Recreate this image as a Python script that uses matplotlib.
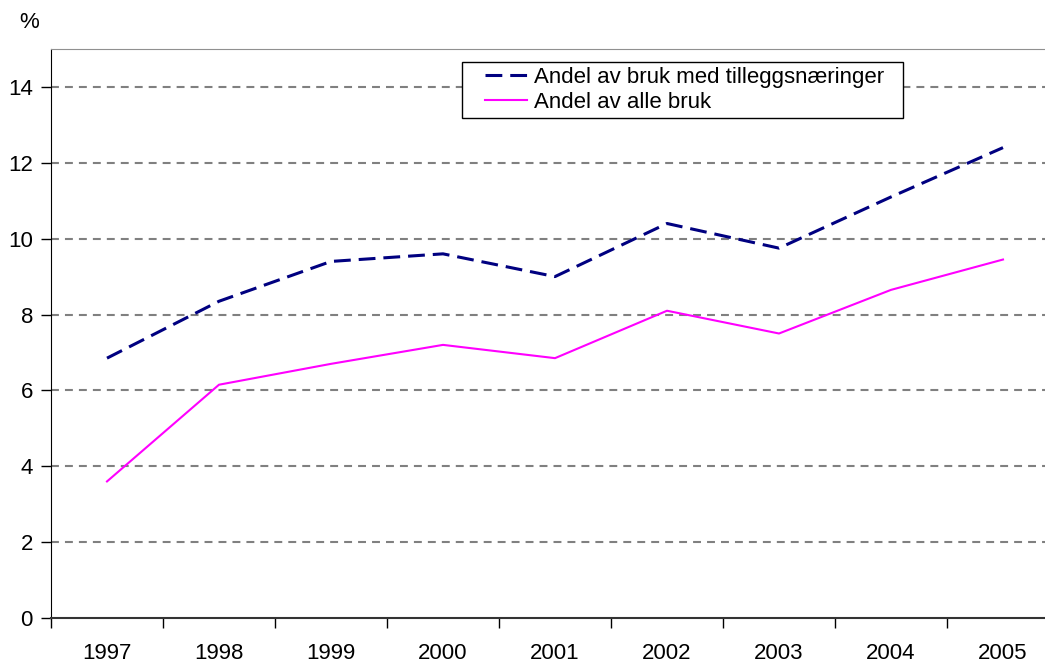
import matplotlib
matplotlib.use("Agg")
import matplotlib.pyplot as plt
import numpy as np
from matplotlib.patches import Rectangle

years = ["1997", "1998", "1999", "2000", "2001", "2002", "2003", "2004", "2005"]
andel_tillegg = [6.85, 8.35, 9.4, 9.6, 9.0, 10.4, 9.75, 11.1, 12.4]
andel_alle = [3.6, 6.15, 6.7, 7.2, 6.85, 8.1, 7.5, 8.65, 9.45]
y_ticks = [0, 2, 4, 6, 8, 10, 12, 14]

plt.rcParams["font.family"] = ["Liberation Sans", "DejaVu Sans"]

W, H = 1045, 664
fig = plt.figure(figsize=(W / 100, H / 100), dpi=100, facecolor="white")
# axes extend past the right edge, like the clipped original
ax = fig.add_axes([51 / W, 1 - 618 / H, 1008 / W, 569 / H])

x = np.arange(len(years))
ax.plot(x, andel_tillegg, color="#000080", lw=2.2, dashes=(5.5, 2.6),
        label="Andel av bruk med tilleggsnæringer")
ax.plot(x, andel_alle, color="#FF00FF", lw=1.5, label="Andel av alle bruk")

ax.set_xlim(-0.5, len(years) - 0.5)
ax.set_ylim(0, 15)
ax.set_yticks(y_ticks)
ax.set_yticklabels([str(v) for v in y_ticks], fontsize=16)
for v in y_ticks[1:]:
    ax.axhline(v, color="#808080", lw=1.5, dashes=(3.8, 2.9), zorder=0)

ax.set_xticks(np.arange(len(years) + 1) - 0.5)
ax.set_xticklabels([])
ax.set_xticks(x, minor=True)
ax.set_xticklabels(years, minor=True, fontsize=16)
ax.tick_params(axis="x", which="major", direction="out", length=7, width=1)
ax.tick_params(axis="x", which="minor", length=0, pad=18)
ax.tick_params(axis="y", direction="out", length=7, width=1, pad=6)

ax.spines["top"].set_color("#909090")
ax.spines["right"].set_visible(False)
ax.spines["left"].set_color("black")
ax.spines["bottom"].set_color("#333333")
ax.spines["bottom"].set_linewidth(1.5)

fig.text(29 / W, 1 - 22 / H, "%", fontsize=16, ha="center", va="center")

# legend box drawn by hand, entries placed inside it
fig.add_artist(Rectangle((462 / W, 1 - 118 / H), 441 / W, 56 / H,
                         transform=fig.transFigure, facecolor="white",
                         edgecolor="black", lw=1, zorder=5))
leg = fig.legend(*ax.get_legend_handles_labels(), loc="upper left",
                 bbox_to_anchor=(485 / W, 1 - 67 / H), fontsize=16,
                 frameon=False, handlelength=1.9, borderpad=0,
                 labelspacing=0.16, handletextpad=0.3, borderaxespad=0)
leg.set_zorder(6)

fig.savefig("out.png", dpi=100, facecolor="white")
